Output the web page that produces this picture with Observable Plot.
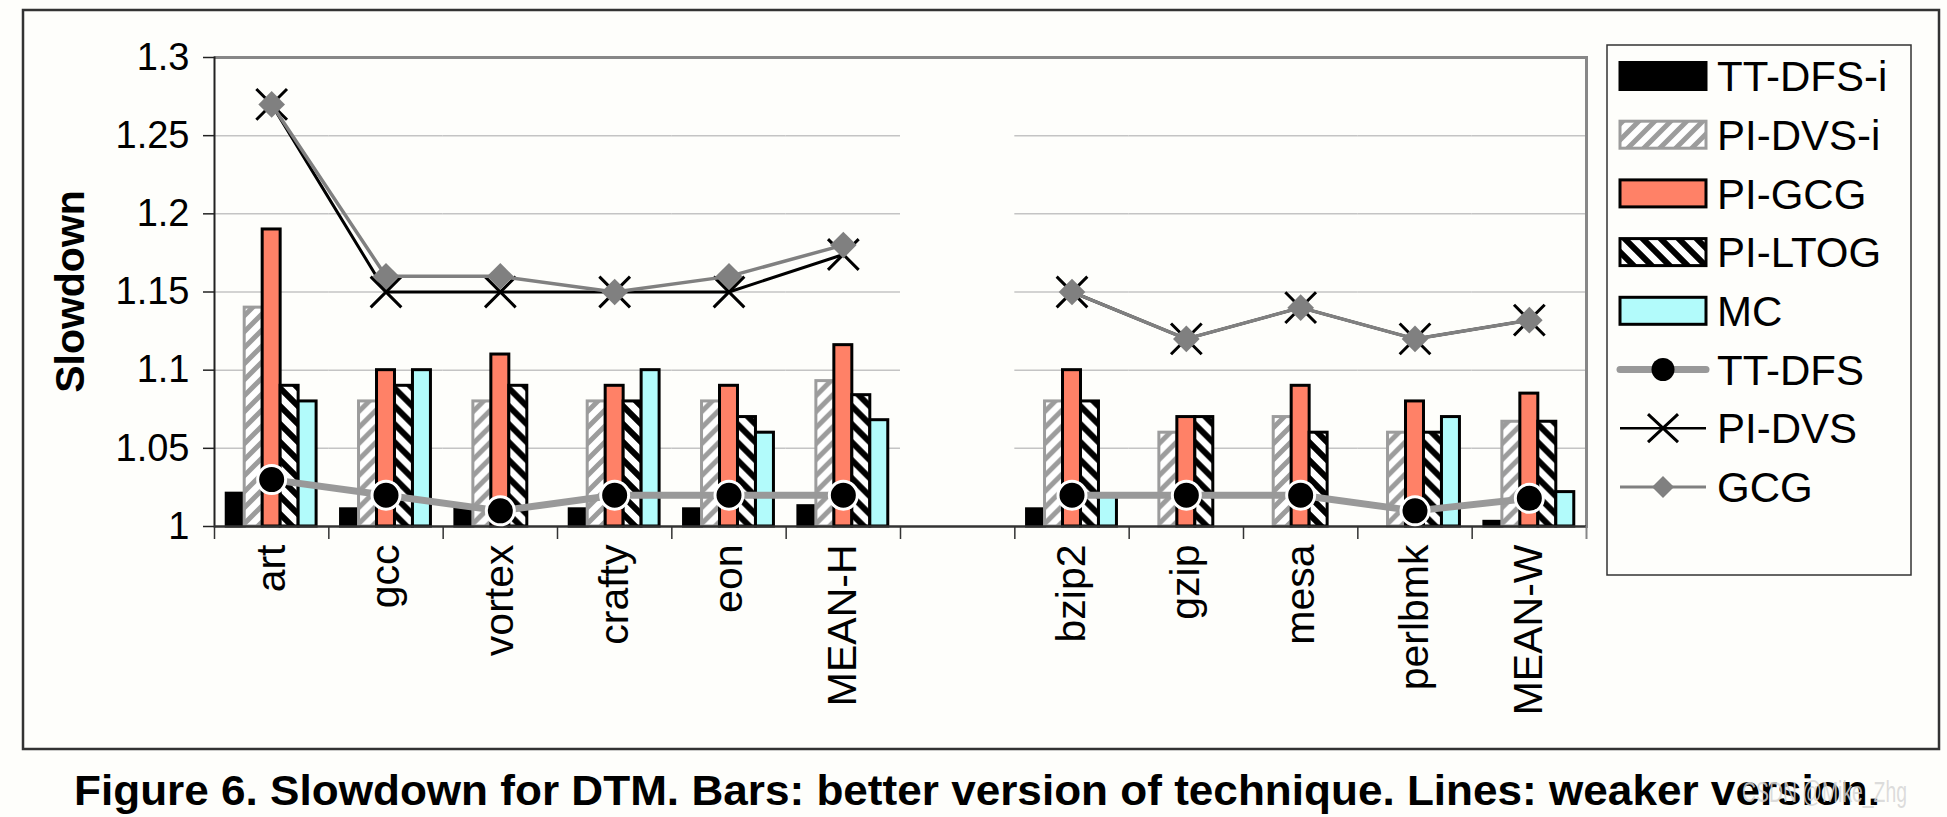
<!DOCTYPE html>
<html>
<head>
<meta charset="utf-8">
<script src="https://cdn.jsdelivr.net/npm/d3@7"></script>
<script src="https://cdn.jsdelivr.net/npm/@observablehq/plot@0.6"></script>
<style>
  body { margin: 0; background: #fefefb; font-family: "Liberation Sans", Arial, sans-serif; }
  #wrap { position: relative; width: 1947px; height: 817px; overflow: hidden; background: #fefefb; }
  #wrap > svg { position: absolute; left: 0; top: 0; }
</style>
</head>
<body>
<svg width="0" height="0" style="position:absolute">
  <defs>
    <pattern id="hatchGray" patternUnits="userSpaceOnUse" width="16" height="16">
      <rect width="16" height="16" fill="#ffffff"/>
      <path d="M-4,4 L4,-4 M0,16 L16,0 M12,20 L20,12" stroke="#9c9c9c" stroke-width="5"/>
    </pattern>
    <pattern id="hatchBlack" patternUnits="userSpaceOnUse" width="18" height="18">
      <rect width="18" height="18" fill="#ffffff"/>
      <path d="M-4.5,13.5 L4.5,22.5 M0,0 L18,18 M13.5,-4.5 L22.5,4.5" stroke="#000000" stroke-width="6"/>
    </pattern>
  </defs>
</svg>
<div id="wrap"></div>
<script>
// ---------------- data ----------------
const groups = [
  ["art", "gcc", "vortex", "crafty", "eon", "MEAN-H"],
  ["bzip2", "gzip", "mesa", "perlbmk", "MEAN-W"]
];
const categories = [...groups[0], " ", ...groups[1]];
const barSeries = ["TT-DFS-i", "PI-DVS-i", "PI-GCG", "PI-LTOG", "MC"];
const lineSeries = ["TT-DFS", "PI-DVS", "GCG"];
const yTicks = [1, 1.05, 1.1, 1.15, 1.2, 1.25, 1.3];

// values in category order (null = no bar / gap)
const ttDfsI = [1.021, 1.011, 1.011, 1.011, 1.011, 1.013, null, 1.011, null, null, null, 1.003];
const piDvsI = [1.14, 1.08, 1.08, 1.08, 1.08, 1.093, null, 1.08, 1.06, 1.07, 1.06, 1.067];
const piGcg  = [1.19, 1.10, 1.11, 1.09, 1.09, 1.116, null, 1.10, 1.07, 1.09, 1.08, 1.085];
const piLtog = [1.09, 1.09, 1.09, 1.08, 1.07, 1.084, null, 1.08, 1.07, 1.06, 1.06, 1.067];
const mc     = [1.08, 1.10, null, 1.10, 1.06, 1.068, null, 1.02, null, null, 1.07, 1.022];

const ttDfs  = [1.03, 1.02, 1.01, 1.02, 1.02, 1.02, null, 1.02, 1.02, 1.02, 1.01, 1.018];
const piDvs  = [1.27, 1.15, 1.15, 1.15, 1.15, 1.174, null, 1.15, 1.12, 1.14, 1.12, 1.132];
const gcg    = [1.27, 1.16, 1.16, 1.15, 1.16, 1.18, null, 1.15, 1.12, 1.14, 1.12, 1.132];

const yLabel = "Slowdown";
const caption = "Figure 6. Slowdown for DTM. Bars: better version of technique. Lines: weaker version.";
const watermark = "CSDN @Mike_Zhg";

// ---------------- tables ----------------
const barValues = [ttDfsI, piDvsI, piGcg, piLtog, mc];
const bars = barSeries.flatMap((s, k) =>
  categories.map((c, i) => ({cat: c, series: s, value: barValues[k][i]})).filter(d => d.value != null));
const lineValues = [ttDfs, piDvs, gcg];
const lines = lineSeries.flatMap((s, k) =>
  categories.map((c, i) => ({cat: c, series: s, value: lineValues[k][i], half: groups[0].includes(c) ? "H" : "W"}))
    .filter(d => d.value != null));
const lineOf = s => lines.filter(d => d.series === s);

// ---------------- styles ----------------
const barFill = {"TT-DFS-i": "#000000", "PI-DVS-i": "url(#hatchGray)", "PI-GCG": "#ff8167", "PI-LTOG": "url(#hatchBlack)", "MC": "#b2fbfb"};
const barStroke = {"TT-DFS-i": "#000000", "PI-DVS-i": "#9c9c9c", "PI-GCG": "#000000", "PI-LTOG": "#000000", "MC": "#000000"};
const FONT = "Liberation Sans, Arial, Helvetica, sans-serif";

const W = 1600, H = 740, mL = 214, mR = 14, mT = 57, mB = 214;
const bw = (W - mL - mR) / categories.length;
const common = {
  width: W, height: H, marginLeft: mL, marginRight: mR, marginTop: mT, marginBottom: mB,
  style: {background: "transparent", fontFamily: FONT, color: "#000", overflow: "visible"}
};

// Layer A: grid + bars (faceted by category)
const plotA = Plot.plot({
  ...common,
  fx: {domain: categories, padding: 0, round: false, axis: null, label: null},
  x: {domain: barSeries, paddingInner: 0, paddingOuter: 0.68, round: false, axis: null},
  y: {domain: [1, 1.3], axis: null},
  color: {type: "identity"},
  marks: [
    Plot.ruleY(yTicks.slice(1, -1), {stroke: "#c4c4c4", strokeWidth: 1.5}),
    Plot.barY(bars, {
      fx: "cat", x: "series", y1: 1, y2: "value",
      fill: d => barFill[d.series], stroke: d => barStroke[d.series], strokeWidth: 3
    }),
    Plot.axisFx({anchor: "bottom", tickSize: 0, tickRotate: -90, tickPadding: 18, fontSize: 41, label: null})
  ]
});

// Layer B: axes, frame, lines and markers (point scale = category centres)
const plotB = Plot.plot({
  ...common,
  x: {type: "point", domain: categories, padding: 0.5, round: false, axis: null},
  y: {domain: [1, 1.3], axis: null},
  marks: [
    Plot.ruleY([1.3], {stroke: "#878787", strokeWidth: 3}),
    Plot.frame({anchor: "right", stroke: "#878787", strokeWidth: 3}),
    Plot.frame({anchor: "left", stroke: "#222", strokeWidth: 2}),
    Plot.ruleY([1], {stroke: "#333", strokeWidth: 2.5}),
    Plot.axisY({ticks: yTicks, tickSize: 11, tickPadding: 14, fontSize: 38, tickFormat: d => String(d), label: null, stroke: "#222", strokeWidth: 1.5}),
    Plot.axisX({ticks: categories, tickSize: 13, tickFormat: () => "", dx: -bw / 2, label: null, stroke: "#333", strokeWidth: 1.5}),
    Plot.axisX({ticks: categories.slice(-1), tickSize: 13, tickFormat: () => "", dx: bw / 2, label: null, stroke: "#878787", strokeWidth: 2}),
    Plot.line(lineOf("PI-DVS"), {x: "cat", y: "value", z: "half", stroke: "#000", strokeWidth: 3}),
    Plot.dot(lineOf("PI-DVS"), {x: "cat", y: "value", symbol: "times", r: 14, stroke: "#000", strokeWidth: 3}),
    Plot.line(lineOf("GCG"), {x: "cat", y: "value", z: "half", stroke: "#808080", strokeWidth: 3.5}),
    Plot.dot(lineOf("GCG"), {x: "cat", y: "value", symbol: "diamond2", r: 12, fill: "#808080", stroke: "none"}),
    Plot.line(lineOf("TT-DFS"), {x: "cat", y: "value", z: "half", stroke: "#999999", strokeWidth: 7}),
    Plot.dot(lineOf("TT-DFS"), {x: "cat", y: "value", r: 14, fill: "#000", stroke: "#fff", strokeWidth: 3})
  ]
});

const wrap = document.getElementById("wrap");
wrap.appendChild(plotA);
wrap.appendChild(plotB);

// Layer C: chart frame, y title, legend, caption
const svg = d3.select(wrap).append("svg").attr("width", 1947).attr("height", 817)
  .style("font-family", FONT);

svg.append("rect").attr("x", 23).attr("y", 10).attr("width", 1916).attr("height", 739)
  .attr("fill", "none").attr("stroke", "#333").attr("stroke-width", 2.5);

svg.append("text").attr("transform", "translate(69,291.5) rotate(-90)")
  .attr("text-anchor", "middle").attr("dy", "0.36em")
  .attr("font-size", 41).attr("font-weight", "bold").text(yLabel);

// legend
const lg = svg.append("g");
lg.append("rect").attr("x", 1607).attr("y", 45).attr("width", 304).attr("height", 530)
  .attr("fill", "#fefefb").attr("stroke", "#333").attr("stroke-width", 1.5);
const rowY = k => 76 + k * 58.7;
barSeries.forEach((s, k) => {
  const cy = rowY(k);
  lg.append("rect").attr("x", 1620).attr("y", cy - 13.5).attr("width", 86).attr("height", 27)
    .attr("fill", barFill[s]).attr("stroke", barStroke[s]).attr("stroke-width", 3);
  lg.append("text").attr("x", 1717).attr("y", cy).attr("dy", "0.36em").attr("font-size", 42).text(s);
});
lineSeries.forEach((s, j) => {
  const cy = rowY(barSeries.length + j), cx = 1663;
  if (s === "TT-DFS") {
    lg.append("line").attr("x1", 1620).attr("x2", 1706).attr("y1", cy).attr("y2", cy)
      .attr("stroke", "#999").attr("stroke-width", 7).attr("stroke-linecap", "round");
    lg.append("circle").attr("cx", cx).attr("cy", cy).attr("r", 11.5).attr("fill", "#000");
  } else if (s === "PI-DVS") {
    lg.append("line").attr("x1", 1620).attr("x2", 1706).attr("y1", cy).attr("y2", cy)
      .attr("stroke", "#000").attr("stroke-width", 2.5);
    lg.append("path").attr("d", `M${cx-15},${cy-14}L${cx+15},${cy+14}M${cx-15},${cy+14}L${cx+15},${cy-14}`)
      .attr("stroke", "#000").attr("stroke-width", 3);
  } else {
    lg.append("line").attr("x1", 1620).attr("x2", 1706).attr("y1", cy).attr("y2", cy)
      .attr("stroke", "#808080").attr("stroke-width", 3);
    lg.append("path").attr("d", `M${cx},${cy-11}L${cx+11},${cy}L${cx},${cy+11}L${cx-11},${cy}Z`)
      .attr("fill", "#808080");
  }
  lg.append("text").attr("x", 1717).attr("y", cy).attr("dy", "0.36em").attr("font-size", 42).text(s);
});

// caption + faint watermark on top
svg.append("text").attr("x", 74).attr("y", 805).attr("font-size", 42).attr("font-weight", "bold")
  .attr("textLength", 1806).attr("lengthAdjust", "spacingAndGlyphs").text(caption);
svg.append("text").attr("x", 1742).attr("y", 802).attr("font-size", 30).attr("fill", "#d6d6d6")
  .attr("fill-opacity", 0.85)
  .attr("textLength", 165).attr("lengthAdjust", "spacingAndGlyphs").text(watermark);
</script>
</body>
</html>
